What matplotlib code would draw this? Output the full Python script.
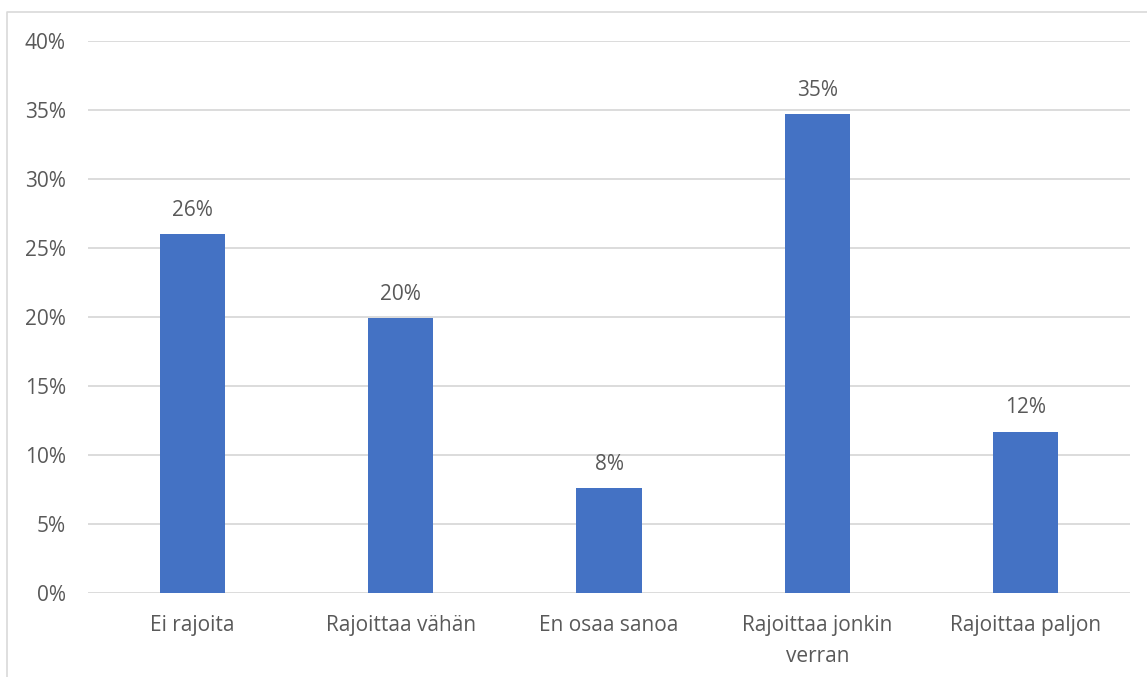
import matplotlib
matplotlib.use("Agg")
import matplotlib.pyplot as plt
from matplotlib.lines import Line2D

categories = ["Ei rajoita", "Rajoittaa vähän", "En osaa sanoa", "Rajoittaa jonkin\nverran", "Rajoittaa paljon"]
values = [26.0, 19.9, 7.6, 34.7, 11.7]
labels = ["26%", "20%", "8%", "35%", "12%"]
yticks = [0, 5, 10, 15, 20, 25, 30, 35, 40]

W, H = 1147, 677
plt.rcParams['font.family'] = ['Open Sans', 'DejaVu Sans']
fig = plt.figure(figsize=(W/100, H/100), dpi=100)
ax = fig.add_axes([88/W, (H-593)/H, (1130-88)/W, (593-41)/H])

text_color = '#595959'
fs = 15
x = list(range(len(categories)))
ax.bar(x, values, width=0.312, color='#4472C4', zorder=3)
ax.set_xlim(-0.5, len(categories) - 0.5)
ax.set_ylim(0, 40)
ax.set_yticks(yticks)
ax.set_yticklabels([f"{t}%" for t in yticks])
ax.set_xticks(x)
ax.set_xticklabels(categories, linespacing=1.6)
ax.tick_params(axis='both', length=0, labelsize=fs, colors=text_color)
ax.tick_params(axis='y', pad=16)
ax.tick_params(axis='x', pad=16)
ax.grid(axis='y', color='#d9d9d9', linewidth=1.3, zorder=0)
for s in ax.spines.values():
    s.set_visible(False)

for xi, v, lab in zip(x, values, labels):
    ax.annotate(lab, (xi, v), xytext=(0, 9.5), textcoords='offset points',
                ha='center', va='bottom', fontsize=fs, color=text_color)

fig.add_artist(Line2D([7/W, 7/W, 1.0], [0.0, (H-12)/H, (H-12)/H],
                      transform=fig.transFigure, color='#d9d9d9', linewidth=1.2))

fig.savefig('out.png', dpi=100)
